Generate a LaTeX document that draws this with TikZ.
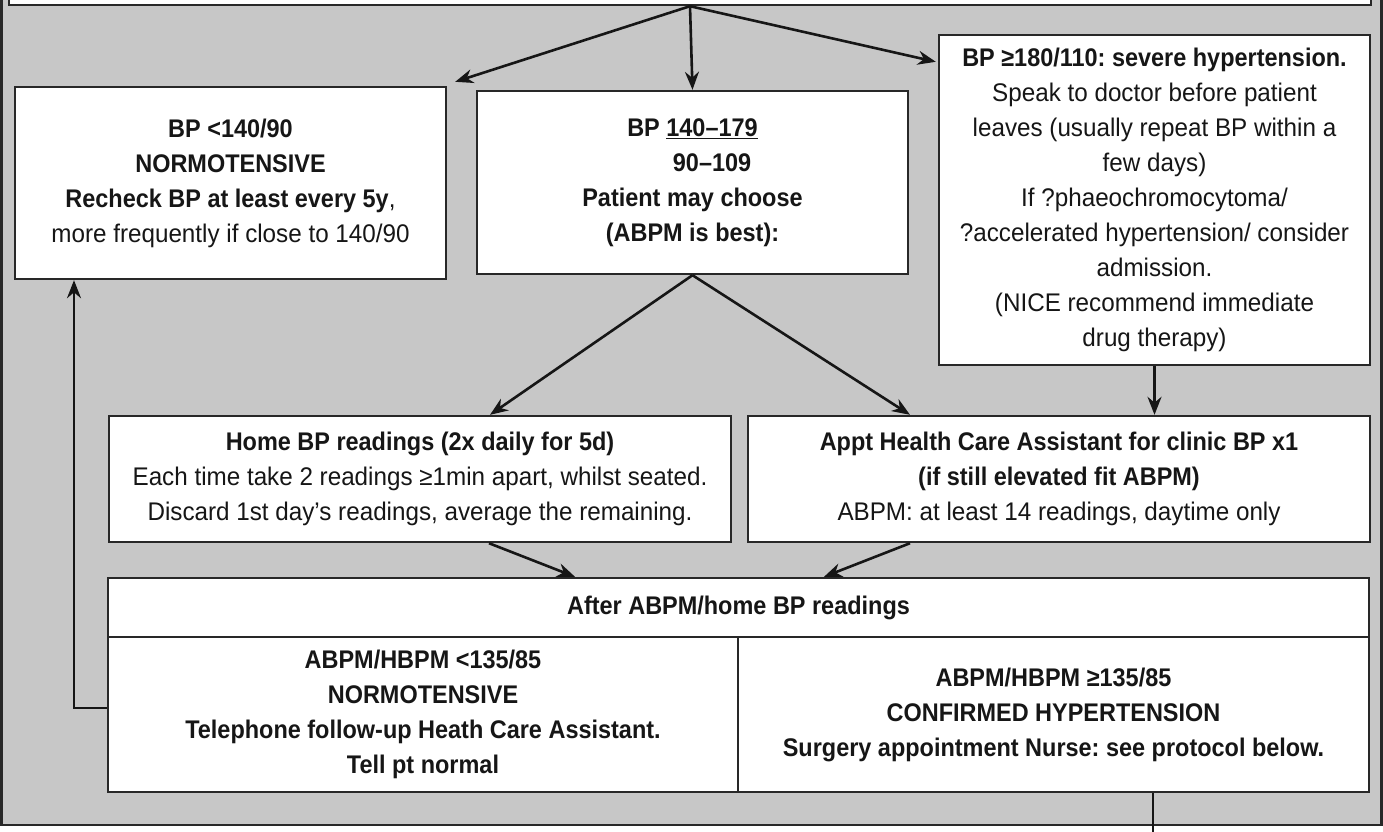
\documentclass[tikz,border=0pt]{standalone}
\usepackage{fontspec}
\setmainfont{Liberation Sans}[FakeStretch=0.95, BoldFeatures={FakeStretch=0.92}]
\usetikzlibrary{arrows.meta,calc}
\definecolor{bg}{RGB}{199,199,199}
\definecolor{ink}{RGB}{22,22,22}
\definecolor{edge}{RGB}{40,40,40}
\frenchspacing
\begin{document}
\begin{tikzpicture}[x=1pt,y=-1pt,
  box/.style={draw=edge,line width=2.4pt,fill=white,inner sep=0pt,align=center,text=ink,
              font=\fontsize{25.5}{35}\selectfont},
  arr/.style={draw=ink,line width=2.6pt,-{Stealth[length=18pt,width=14pt]}},
  ln/.style={draw=ink,line width=2.4pt}]
\useasboundingbox (0,0) rectangle (1383,831);
\clip (0,0) rectangle (1383,831);
\fill[white] (0,0) rectangle (1383,831);
\draw[edge,line width=2.8pt,fill=bg] (1.5,-60) rectangle (1381.5,825);

\node[box,minimum width=1362,minimum height=40] (T) at (690,-15) {};

\node[box,minimum width=431,minimum height=192] (L) at (230.5,183)
  {\textbf{BP <140/90}\\ \textbf{NORMOTENSIVE}\\ \textbf{Recheck BP at least every 5y},\\ more frequently if close to 140/90};

\node[box,minimum width=431,minimum height=183] (M) at (692.5,182.5)
  {\textbf{BP \underline{140–179}}\\
   \textbf{\hphantom{BP }\ooalign{\hphantom{140–179}\cr\hfil 90–109\hfil\cr}}\\
   \textbf{Patient may choose}\\ \textbf{(ABPM is best):}};

\node[box,minimum width=431,minimum height=330] (R) at (1154.5,200)
  {\textbf{BP ≥180/110: severe hypertension.}\\
   Speak to doctor before patient\\
   leaves (usually repeat BP within a\\
   few days)\\
   If ?phaeochromocytoma/\\
   ?accelerated hypertension/ consider\\
   admission.\\
   (NICE recommend immediate\\
   drug therapy)};

\node[box,minimum width=622,minimum height=126] (H) at (420,479)
  {\textbf{Home BP readings (2x daily for 5d)}\\
   Each time take 2 readings ≥1min apart, whilst seated.\\
   Discard 1st day’s readings, average the remaining.};

\node[box,minimum width=622,minimum height=126] (A) at (1059,479)
  {\textbf{Appt Health Care Assistant for clinic BP x1}\\
   \textbf{(if still elevated fit ABPM)}\\
   ABPM: at least 14 readings, daytime only};

\node[box,minimum width=1261,minimum height=59] (AfH) at (738.5,607.5)
  {\textbf{After ABPM/home BP readings}};

\node[box,minimum width=630,minimum height=155] (BL) at (423,714.5)
  {\textbf{ABPM/HBPM <135/85}\\ \textbf{NORMOTENSIVE}\\
   \textbf{Telephone follow-up Heath Care Assistant.}\\ \textbf{Tell pt normal}};

\node[box,minimum width=631,minimum height=155] (BR) at (1053.5,714.5)
  {\textbf{ABPM/HBPM ≥135/85}\\ \textbf{CONFIRMED HYPERTENSION}\\
   \textbf{Surgery appointment Nurse: see protocol below.}};

% connectors
\draw[arr] (T.south) -- ($(L.north east)+(8,-4)$);
\draw[arr] (T.south) -- (M.north);
\draw[arr] (T.south) -- ($(R.north west)+(-2,28)$);
\draw[arr] (M.south) -- ($(H.north)+(70,0)$);
\draw[arr] (M.south) -- ($(A.north)+(-149,0)$);
\draw[arr] (R.south) -- (R.south |- A.north);
\draw[arr] ($(H.south)+(69,0)$) -- ($(AfH.north)+(-163.5,0)$);
\draw[arr] ($(A.south)+(-149,0)$) -- ($(AfH.north)+(85.5,0)$);
\draw[arr] ($(BL.west)+(0,-6.5)$) -| ($(L.south)+(-156.5,0)$);
\draw[ln] ($(BR.south)+(99.5,0)$) -- ++(0,60);
\end{tikzpicture}
\end{document}
